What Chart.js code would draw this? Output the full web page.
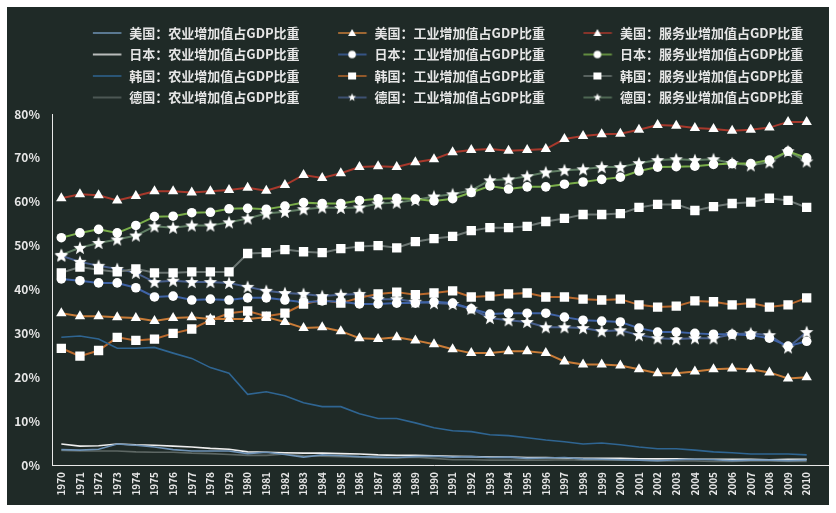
<!DOCTYPE html>
<html><head><meta charset="utf-8">
<script src="https://cdn.jsdelivr.net/npm/chart.js@4"></script>
<style>
html,body{margin:0;padding:0;background:#fff;}
#wrap{position:absolute;left:7px;top:7px;width:822px;height:498px;background:#1f2a27;}
canvas{display:block}
</style></head><body>
<div id="wrap"><canvas id="c" width="822" height="498"></canvas></div>
<script>
const years = ['1970','1971','1972','1973','1974','1975','1976','1977','1978','1979','1980','1981','1982','1983','1984','1985','1986','1987','1988','1989','1990','1991','1992','1993','1994','1995','1996','1997','1998','1999','2000','2001','2002','2003','2004','2005','2006','2007','2008','2009','2010'];

const usAgri = [3.5,3.4,3.6,4.8,4.5,4.1,3.5,3.2,3.2,3.2,2.6,2.9,2.4,1.8,2.3,2.1,1.9,1.8,1.7,1.9,2.0,1.8,1.9,1.7,1.8,1.5,1.6,1.7,1.4,1.3,1.2,1.1,1.0,1.2,1.3,1.2,1.0,1.1,1.1,1.0,1.1];
const usInd = [34.6,33.9,33.9,33.7,33.5,32.8,33.5,33.7,33.3,33.3,33.3,33.7,32.6,31.2,31.4,30.5,28.9,28.7,29.1,28.4,27.5,26.4,25.5,25.5,25.9,25.9,25.5,23.6,22.9,22.9,22.7,21.8,20.9,20.9,21.3,21.8,22.0,21.8,21.1,19.7,20.0];
const usServ = [60.8,61.7,61.5,60.3,61.3,62.4,62.4,62.1,62.4,62.7,63.2,62.5,63.8,66.1,65.4,66.5,67.9,68.1,67.9,69.0,69.7,71.3,71.8,72.0,71.6,71.8,72.0,74.3,75.0,75.4,75.5,76.4,77.5,77.3,76.8,76.6,76.2,76.4,76.9,78.2,78.2];

const jpAgri = [4.8,4.3,4.4,4.8,4.6,4.5,4.3,4.1,3.8,3.6,3.0,2.9,2.8,2.7,2.7,2.6,2.5,2.3,2.2,2.2,2.1,2.0,1.9,1.8,1.8,1.7,1.7,1.6,1.5,1.5,1.5,1.4,1.4,1.4,1.3,1.3,1.3,1.3,1.2,1.3,1.3];
const jpInd = [42.4,42.0,41.5,41.5,40.4,38.3,38.5,37.6,37.8,37.6,38.1,38.1,37.6,37.1,37.4,37.2,36.7,36.7,36.9,36.9,37.2,36.9,35.6,34.4,34.6,34.6,34.6,33.7,33.0,32.8,32.6,31.2,30.3,30.3,30.0,29.8,29.8,29.6,28.9,27.1,28.2];
const jpServ = [51.8,52.9,53.7,52.9,54.6,56.6,56.7,57.5,57.6,58.4,58.5,58.3,59.0,59.8,59.6,59.6,60.3,60.7,60.8,60.6,60.2,60.7,62.1,63.6,62.9,63.4,63.4,64.0,64.5,65.1,65.6,67.0,67.9,68.0,68.1,68.5,68.7,68.7,69.5,71.5,70.0];

const krAgri = [29.1,29.4,28.7,26.6,26.6,26.8,25.5,24.3,22.2,20.9,16.1,16.7,15.8,14.2,13.3,13.3,11.7,10.6,10.6,9.6,8.5,7.8,7.6,6.9,6.7,6.2,5.7,5.3,4.8,5.0,4.6,4.1,3.7,3.7,3.4,3.0,2.8,2.5,2.5,2.5,2.3];
const krInd = [26.6,24.8,26.1,29.1,28.4,28.7,30.0,31.0,33.0,34.6,35.1,33.9,34.6,36.7,37.6,36.9,38.1,39.0,39.4,38.8,39.2,39.7,38.3,38.5,39.0,39.2,38.3,38.3,37.8,37.6,37.8,36.5,36.0,36.2,37.4,37.2,36.5,36.9,36.0,36.5,38.1];
const krServ = [43.8,45.1,44.5,44.0,44.7,43.8,43.8,44.0,44.0,44.0,48.2,48.4,49.1,48.6,48.4,49.3,49.8,50.0,49.5,50.9,51.6,52.1,53.4,54.1,54.1,54.4,55.5,56.2,57.1,57.1,57.3,58.7,59.4,59.4,58.0,58.9,59.6,59.9,60.8,60.3,58.7];

const deAgri = [3.3,3.2,3.2,3.2,3.0,2.9,2.9,2.7,2.6,2.4,2.2,2.2,2.5,2.1,2.0,1.9,1.8,1.6,1.6,1.8,1.5,1.2,1.2,1.1,1.1,1.1,1.1,1.2,1.1,1.1,1.1,1.1,0.9,0.9,0.9,0.8,0.8,0.9,0.9,0.8,0.8];
const deInd = [47.7,46.3,45.4,44.7,43.8,41.7,42.0,41.7,41.7,41.5,40.6,39.7,39.2,39.0,38.5,38.8,39.0,37.8,37.8,37.2,36.9,36.7,35.6,33.5,33.0,32.6,31.4,31.4,31.2,30.5,30.7,29.6,28.9,28.7,28.9,28.9,29.8,30.0,29.6,26.8,30.3];
const deServ = [47.9,49.5,50.6,51.4,52.3,54.4,54.1,54.6,54.6,55.3,56.2,57.3,57.7,58.3,58.7,58.6,58.7,59.6,59.8,60.4,61.2,61.7,62.6,64.9,65.1,65.8,66.7,67.2,67.4,67.9,67.9,68.8,69.5,69.7,69.5,69.7,68.8,68.3,69.0,71.5,69.2];

const yMin = 0, yMax = 80, yStep = 10;

const FONT = "'Noto Sans CJK SC','Noto Sans',sans-serif";
const TXT = '#e6e6e6';

function starPath(ctx, cx, cy, ro, ri) {
  ctx.beginPath();
  for (let k = 0; k < 10; k++) {
    const r = k % 2 === 0 ? ro : ri;
    const a = -Math.PI / 2 + k * Math.PI / 5;
    const px = cx + r * Math.cos(a), py = cy + r * Math.sin(a);
    if (k === 0) ctx.moveTo(px, py); else ctx.lineTo(px, py);
  }
  ctx.closePath();
}
function makeStar(ro) {
  const s = Math.ceil(ro * 2 + 2);
  const c = document.createElement('canvas'); c.width = s; c.height = s;
  const g = c.getContext('2d'); g.fillStyle = '#ffffff';
  starPath(g, s / 2, s / 2 + 0.5, ro, ro * 0.42); g.fill();
  return c;
}
const starImg = makeStar(7);

const LW = 60;
function legendImg(color, marker) {
  const c = document.createElement('canvas'); c.width = LW; c.height = 12;
  const g = c.getContext('2d');
  g.strokeStyle = color; g.lineWidth = 1.5;
  g.beginPath(); g.moveTo(LW - 30, 6); g.lineTo(LW - 1.5, 6); g.stroke();
  const mx = LW - 16, my = 6;
  g.fillStyle = '#ffffff';
  if (marker === 'triangle') { g.beginPath(); g.moveTo(mx, my - 4); g.lineTo(mx + 4, my + 3); g.lineTo(mx - 4, my + 3); g.closePath(); g.fill(); }
  else if (marker === 'circle') { g.beginPath(); g.arc(mx, my, 3.8, 0, Math.PI * 2); g.fill(); }
  else if (marker === 'rect') { g.fillRect(mx - 4, my - 3.5, 8, 7); }
  else if (marker === 'star') { starPath(g, mx, my, 4.2, 1.8); g.fill(); }
  return c;
}

function mkSet(label, data, color, marker, width) {
  const ds = { label, data, borderColor: color, backgroundColor: color, borderWidth: width, tension: 0,
    pointBackgroundColor: '#ffffff', pointBorderColor: '#ffffff', pointBorderWidth: 0,
    pointRadius: 0, pointHoverRadius: 0, _legend: legendImg(color, marker) };
  if (marker === 'triangle') { ds.pointStyle = 'triangle'; ds.pointRadius = 6; }
  else if (marker === 'circle') { ds.pointStyle = 'circle'; ds.pointRadius = 4.8; }
  else if (marker === 'rect') { ds.pointStyle = 'rect'; ds.pointRadius = 6.6; }
  else if (marker === 'star') { ds.pointStyle = starImg; ds.pointRadius = 7; }
  return ds;
}

const datasets = [
  mkSet('美国：农业增加值占GDP比重', usAgri, '#6f93b6', null, 1.6),
  mkSet('美国：工业增加值占GDP比重', usInd, '#c97c38', 'triangle', 2),
  mkSet('美国：服务业增加值占GDP比重', usServ, '#a8392c', 'triangle', 2),
  mkSet('日本：农业增加值占GDP比重', jpAgri, '#eeeeee', null, 1.6),
  mkSet('日本：工业增加值占GDP比重', jpInd, '#3f63a6', 'circle', 2),
  mkSet('日本：服务业增加值占GDP比重', jpServ, '#7aae4a', 'circle', 2),
  mkSet('韩国：农业增加值占GDP比重', krAgri, '#2f6592', null, 1.6),
  mkSet('韩国：工业增加值占GDP比重', krInd, '#b9692d', 'rect', 2),
  mkSet('韩国：服务业增加值占GDP比重', krServ, '#6c7673', 'rect', 2),
  mkSet('德国：农业增加值占GDP比重', deAgri, '#5d6764', null, 1.6),
  mkSet('德国：工业增加值占GDP比重', deInd, '#485f8c', 'star', 2),
  mkSet('德国：服务业增加值占GDP比重', deServ, '#5f7d63', 'star', 2)
];

const axisExt = {
  id: 'axisExt',
  afterLayout(chart) {
    const lg = chart.legend;
    if (lg) { lg.left += 21.5; lg.right += 21.5; }
  },
  afterDraw(chart) {
    const { ctx, chartArea: a } = chart;
    ctx.save(); ctx.strokeStyle = '#e8e8e8'; ctx.lineWidth = 1;
    const y = Math.round(a.bottom) + 0.5;
    ctx.beginPath(); ctx.moveTo(a.right, y); ctx.lineTo(chart.width, y); ctx.stroke();
    ctx.restore();
  }
};

new Chart(document.getElementById('c'), {
  type: 'line',
  data: { labels: years, datasets },
  plugins: [axisExt],
  options: {
    responsive: false, animation: false, devicePixelRatio: 1,
    layout: { padding: { left: 0, right: 13, top: 11, bottom: 0 } },
    plugins: {
      tooltip: { enabled: false },
      legend: {
        position: 'top', align: 'center',
        labels: {
          usePointStyle: true, pointStyleWidth: LW, padding: 8.5,
          color: TXT, font: { family: FONT, size: 13, weight: 'bold' },
          generateLabels: (chart) => chart.data.datasets.map((d, i) => ({
            text: d.label, pointStyle: d._legend, fillStyle: 'transparent', strokeStyle: 'transparent',
            lineWidth: 0, fontColor: TXT, hidden: false, datasetIndex: i
          }))
        }
      }
    },
    scales: {
      x: {
        type: 'category', offset: true,
        grid: { display: false, drawTicks: false },
        border: { display: true, color: '#e8e8e8', width: 1 },
        ticks: { color: TXT, font: { family: FONT, size: 10, weight: 'bold' }, minRotation: 90, maxRotation: 90, autoSkip: false, padding: 7 },
        afterFit: (s) => { s.height = 40; }
      },
      y: {
        min: yMin, max: yMax,
        grid: { display: false, drawTicks: false },
        border: { display: true, color: '#e8e8e8', width: 1 },
        ticks: { stepSize: yStep, color: TXT, font: { family: FONT, size: 12, weight: 'bold' }, padding: 12, callback: (v) => v + '%' },
        afterFit: (s) => { s.width = 45; }
      }
    }
  }
});
</script>
</body></html>
